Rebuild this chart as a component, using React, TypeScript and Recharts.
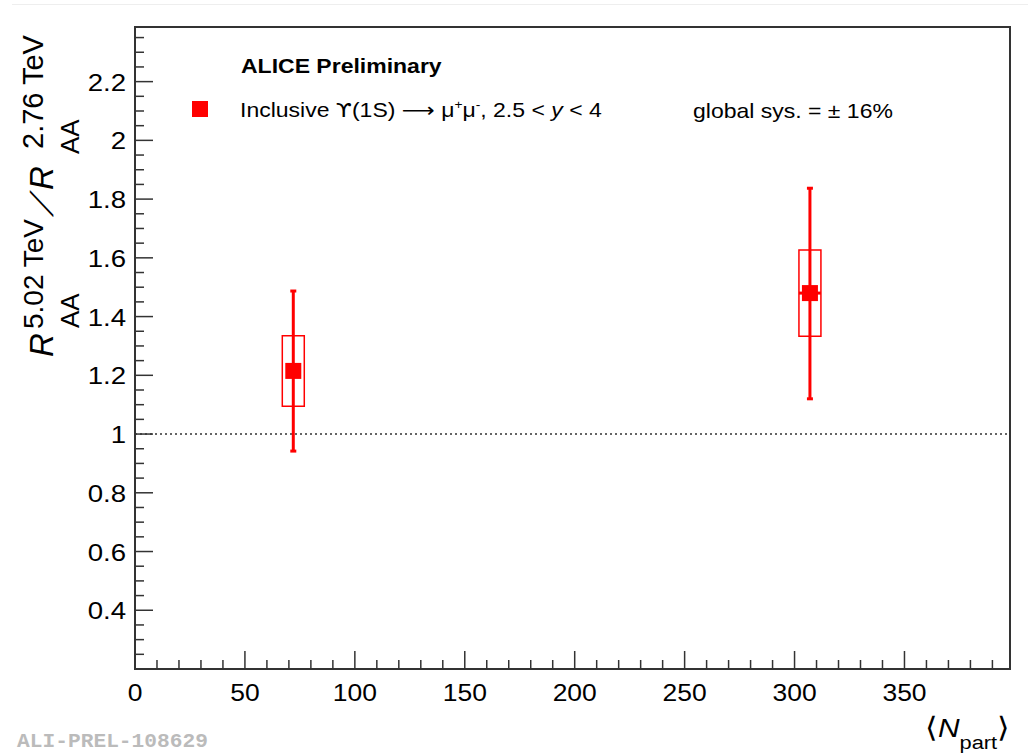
import React from 'react';
import {
  ComposedChart,
  Scatter,
  XAxis,
  YAxis,
  ErrorBar,
  ReferenceArea,
  ReferenceLine,
  Legend,
} from 'recharts';

// ---- data ----
const npart = [72, 307];
const ratio = [1.215, 1.48];
const statLow = [0.942, 1.12];
const statHigh = [1.487, 1.837];
const sysLow = [1.095, 1.333];
const sysHigh = [1.335, 1.627];
const npartErr = [0, 5];
const sysHalfWidth = 5;

// ---- axes ----
const xMajorTicks = [0, 50, 100, 150, 200, 250, 300, 350];
const xMinorTicks = [10, 20, 30, 40, 60, 70, 80, 90, 110, 120, 130, 140, 160, 170, 180, 190, 210, 220, 230, 240, 260, 270, 280, 290, 310, 320, 330, 340, 360, 370, 380, 390];
const yMajorTicks = [0.4, 0.6, 0.8, 1, 1.2, 1.4, 1.6, 1.8, 2, 2.2];
const yMinorTicks = [0.25, 0.3, 0.35, 0.45, 0.5, 0.55, 0.65, 0.7, 0.75, 0.85, 0.9, 0.95, 1.05, 1.1, 1.15, 1.25, 1.3, 1.35, 1.45, 1.5, 1.55, 1.65, 1.7, 1.75, 1.85, 1.9, 1.95, 2.05, 2.1, 2.15, 2.25, 2.3, 2.35];
const X_MIN = 0;
const X_MAX = 398;
const Y_MIN = 0.2;
const Y_MAX = 2.386;

const data = npart.map((x, i) => ({
  x,
  y: ratio[i],
  err: [ratio[i] - statLow[i], statHigh[i] - ratio[i]],
  xerr: [npartErr[i], npartErr[i]],
}));

const RED = '#ff0000';
const AX = '#333333';
const FONT = '"Liberation Sans", Arial, Helvetica, sans-serif';
const SYM = '"DejaVu Sans", "Liberation Sans", sans-serif';
const SX = 1.15;

const fmt = (v: number) => String(Number(v.toFixed(2)));

const YTick = (props: any) => {
  const { x, y, payload } = props;
  const v = payload.value;
  const major = yMajorTicks.some((m) => Math.abs(m - v) < 1e-6);
  return (
    <g>
      <line x1={x} y1={y} x2={x + (major ? 18 : 9)} y2={y} stroke={AX} strokeWidth={1.5} />
      {major && (
        <text
          transform={`translate(${x - 9},${y + 9}) scale(${SX},1)`}
          textAnchor="end"
          fontSize={24}
          fontFamily={FONT}
          fill="#000"
        >
          {fmt(v)}
        </text>
      )}
    </g>
  );
};

const XTick = (props: any) => {
  const { x, y, payload } = props;
  const v = payload.value;
  const major = xMajorTicks.includes(v);
  return (
    <g>
      <line x1={x} y1={y} x2={x} y2={y - (major ? 18 : 9)} stroke={AX} strokeWidth={1.5} />
      {major && (
        <text
          transform={`translate(${x},${y + 32}) scale(${SX},1)`}
          textAnchor="middle"
          fontSize={23}
          fontFamily={FONT}
          fill="#000"
        >
          {fmt(v)}
        </text>
      )}
    </g>
  );
};

const YTitle = () => (
  <g transform="translate(53,357) rotate(-90)" fontFamily={FONT} fill="#000">
    <text x={0} y={0} fontSize={33} fontStyle="italic">R</text>
    <text x={29} y={26} fontSize={26}>AA</text>
    <text x={28} y={-10} fontSize={28}>5.02 TeV</text>
    <g transform="translate(140,0) skewX(-38)">
      <text x={0} y={0} fontSize={32}>/</text>
    </g>
    <text x={167} y={0} fontSize={33} fontStyle="italic">R</text>
    <text x={203} y={26} fontSize={26}>AA</text>
    <text x={208} y={-10} fontSize={29}>2.76 TeV</text>
  </g>
);

const XTitle = () => (
  <g transform={`translate(1010,737) scale(${SX},1)`} fontFamily={FONT} fill="#000">
    <text x={0} y={0} textAnchor="end">
      <tspan fontSize={28}>⟨</tspan>
      <tspan fontSize={26} fontStyle="italic">N</tspan>
      <tspan fontSize={19} dy={12}>part</tspan>
      <tspan fontSize={28} dy={-12}>⟩</tspan>
    </text>
  </g>
);

const LegendBox = () => (
  <svg width={1028} height={140} fontFamily={FONT}>
    <text transform={`translate(241,73) scale(1.15,1)`} fontWeight="bold" fontSize={20} fill="#000">
      ALICE Preliminary
    </text>
    <rect x={192} y={101} width={16} height={16} fill={RED} />
    <text transform={`translate(240,117) scale(${SX},1)`} fontSize={20} fill="#000">
      <tspan>Inclusive </tspan>
      <tspan fontFamily={SYM}>ϒ</tspan>
      <tspan>(1S) </tspan>
      <tspan fontFamily={SYM}>⟶</tspan>
      <tspan> μ</tspan>
      <tspan dy={-8} fontSize={12}>+</tspan>
      <tspan dy={8}>μ</tspan>
      <tspan dy={-8} fontSize={12}>-</tspan>
      <tspan dy={8}>{', 2.5 < '}</tspan>
      <tspan fontStyle="italic">y</tspan>
      <tspan>{' < 4'}</tspan>
    </text>
    <text transform={`translate(693,118) scale(${SX},1)`} fontSize={20} fill="#000">
      global sys. = ± 16%
    </text>
  </svg>
);

const Marker = (props: any) => {
  const { cx, cy } = props;
  return <rect x={cx - 8} y={cy - 8} width={16} height={16} fill={RED} />;
};

export default function App() {
  return (
    <div
      style={{
        position: 'absolute',
        left: 0,
        top: 0,
        width: 1028,
        height: 754,
        background: '#fff',
        fontFamily: FONT,
      }}
    >
      <svg
        width={1028}
        height={754}
        style={{ position: 'absolute', left: 0, top: 0, pointerEvents: 'none' }}
      >
        <line x1={12} y1={4.5} x2={1028} y2={4.5} stroke="#eeeeee" strokeWidth={1} />
        <text
          x={17}
          y={747}
          fontSize={20}
          fontWeight="bold"
          fontFamily='"Liberation Mono", "DejaVu Sans Mono", monospace'
          fill="#bbbbbb"
          textLength={191}
          lengthAdjust="spacingAndGlyphs"
        >
          ALI-PREL-108629
        </text>
      </svg>
      <ComposedChart
        width={1028}
        height={754}
        margin={{ top: 27, right: 18, bottom: 45, left: 75 }}
        style={{ position: 'absolute', left: 0, top: 0 }}
      >
        <XAxis
          type="number"
          dataKey="x"
          domain={[X_MIN, X_MAX]}
          allowDataOverflow
          ticks={[...xMajorTicks, ...xMinorTicks].sort((a, b) => a - b)}
          interval={0}
          tick={<XTick />}
          tickLine={false}
          tickSize={0}
          tickMargin={0}
          axisLine={false}
          height={40}
          label={{ content: () => <XTitle /> }}
        />
        <YAxis
          type="number"
          dataKey="y"
          domain={[Y_MIN, Y_MAX]}
          allowDataOverflow
          ticks={[...yMajorTicks, ...yMinorTicks].sort((a, b) => a - b)}
          interval={0}
          tick={<YTick />}
          tickLine={false}
          tickSize={0}
          tickMargin={0}
          axisLine={false}
          width={60}
          label={{ content: () => <YTitle /> }}
        />
        <ReferenceLine y={1} stroke={AX} strokeWidth={1.5} strokeDasharray="2 3" />
        {npart.map((x, i) => (
          <ReferenceArea
            key={i}
            x1={x - sysHalfWidth}
            x2={x + sysHalfWidth}
            y1={sysLow[i]}
            y2={sysHigh[i]}
            fill="none"
            fillOpacity={0}
            stroke={RED}
            strokeWidth={1.5}
            ifOverflow="visible"
          />
        ))}
        <Scatter data={data} dataKey="y" shape={<Marker />} isAnimationActive={false} fill={RED}>
          <ErrorBar dataKey="err" direction="y" width={3} strokeWidth={3} stroke={RED} isAnimationActive={false} />
          <ErrorBar dataKey="xerr" direction="x" width={0} strokeWidth={3} stroke={RED} isAnimationActive={false} />
        </Scatter>
        <ReferenceArea
          x1={X_MIN}
          x2={X_MAX}
          y1={Y_MIN}
          y2={Y_MAX}
          fill="none"
          fillOpacity={0}
          stroke={AX}
          strokeWidth={2}
          ifOverflow="visible"
        />
        <Legend
          verticalAlign="middle"
          layout="horizontal"
          align="center"
          content={() => <LegendBox />}
          wrapperStyle={{ left: 0, top: 0, width: 1028, height: 140, pointerEvents: 'none' }}
        />
      </ComposedChart>
    </div>
  );
}
